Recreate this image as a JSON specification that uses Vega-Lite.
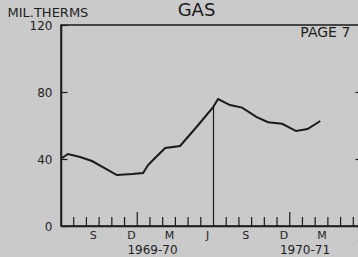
{
  "$schema": "https://vega.github.io/schema/vega-lite/v6.json",
  "autosize": {"type": "none"},
  "padding": {"left": 61, "top": 25, "right": 0, "bottom": 31},
  "width": 305,
  "height": 201,
  "background": "#cacaca",
  "title": {"text": "GAS", "fontSize": 18, "font": "DejaVu Sans", "fontWeight": "normal", "color": "#1a1a1a", "anchor": "middle", "dx": -17, "offset": 0, "dy": 14},
  "config": {
    "view": {"stroke": "#1a1a1a", "strokeWidth": 1.5},
    "axis": {"grid": false, "labelFont": "DejaVu Sans", "titleFont": "DejaVu Sans", "labelColor": "#1e1e1e", "titleColor": "#1e1e1e", "domainColor": "#1a1a1a", "domainWidth": 1.5, "tickColor": "#1a1a1a", "tickWidth": 1.2}
  },
  "resolve": {"axis": {"y": "independent"}},
  "layer": [
    {
      "data": {"values": [
        {"m": 0.08, "v": 40.6}, {"m": 0.55, "v": 43.0}, {"m": 1.5, "v": 41.2}, {"m": 2.44, "v": 38.8},
        {"m": 4.4, "v": 30.4}, {"m": 5.6, "v": 31.0}, {"m": 6.46, "v": 31.6}, {"m": 6.85, "v": 36.4},
        {"m": 7.4, "v": 40.6}, {"m": 8.2, "v": 46.6}, {"m": 9.37, "v": 47.8}, {"m": 10.8, "v": 60.3},
        {"m": 11.97, "v": 71.0}, {"m": 12.36, "v": 75.8}, {"m": 13.3, "v": 72.2}, {"m": 14.25, "v": 70.7},
        {"m": 15.4, "v": 65.0}, {"m": 16.3, "v": 62.0}, {"m": 17.4, "v": 61.0}, {"m": 18.5, "v": 56.7},
        {"m": 19.4, "v": 57.9}, {"m": 20.4, "v": 62.7}
      ]},
      "mark": {"type": "line", "color": "#1a1a1a", "strokeWidth": 2},
      "encoding": {
        "x": {"field": "m", "type": "quantitative", "scale": {"domain": [0, 24], "nice": false, "zero": false},
              "axis": {"title": null, "ticks": false, "values": [2.5, 5.5, 8.5, 11.5, 14.5, 17.5, 20.5, 23.5],
                       "labelExpr": "datum.value % 12 == 2.5 ? 'S' : datum.value % 12 == 5.5 ? 'D' : datum.value % 12 == 8.5 ? 'M' : 'J'",
                       "labelFontSize": 11, "labelPadding": 3, "labelFlush": false}},
        "y": {"field": "v", "type": "quantitative", "scale": {"domain": [0, 120], "nice": false},
              "axis": {"values": [0, 40, 80, 120], "tickSize": -6, "labelPadding": 15, "labelFontSize": 12,
                       "title": "MIL.THERMS", "titleAngle": 0, "titleAlign": "left", "titleBaseline": "alphabetic",
                       "titleX": -54, "titleY": -9, "titleFontSize": 13, "titleFontWeight": "normal"}}
      }
    },
    {
      "data": {"values": [{"m": 12, "v": 0, "v1": 71}]},
      "mark": {"type": "rule", "color": "#1a1a1a", "strokeWidth": 1.2},
      "encoding": {
        "x": {"field": "m", "type": "quantitative"},
        "y": {"field": "v", "type": "quantitative", "axis": null},
        "y2": {"field": "v1"}
      }
    },
    {
      "data": {"values": [
        {"m": 1, "v": 0, "t": 5.4}, {"m": 2, "v": 0, "t": 5.4}, {"m": 3, "v": 0, "t": 5.4}, {"m": 4, "v": 0, "t": 5.4}, {"m": 5, "v": 0, "t": 5.4},
        {"m": 6, "v": 0, "t": 8.4}, {"m": 7, "v": 0, "t": 5.4}, {"m": 8, "v": 0, "t": 5.4}, {"m": 9, "v": 0, "t": 5.4}, {"m": 10, "v": 0, "t": 5.4},
        {"m": 11, "v": 0, "t": 5.4}, {"m": 13, "v": 0, "t": 5.4}, {"m": 14, "v": 0, "t": 5.4}, {"m": 15, "v": 0, "t": 5.4}, {"m": 16, "v": 0, "t": 5.4},
        {"m": 17, "v": 0, "t": 5.4}, {"m": 18, "v": 0, "t": 8.4}, {"m": 19, "v": 0, "t": 5.4}, {"m": 20, "v": 0, "t": 5.4}, {"m": 21, "v": 0, "t": 5.4},
        {"m": 22, "v": 0, "t": 5.4}, {"m": 23, "v": 0, "t": 5.4}
      ]},
      "mark": {"type": "rule", "color": "#1a1a1a", "strokeWidth": 1.2},
      "encoding": {
        "x": {"field": "m", "type": "quantitative"},
        "y": {"field": "v", "type": "quantitative",
              "axis": {"orient": "right", "values": [40, 80], "tickSize": -11, "labels": false, "title": null, "domain": false}},
        "y2": {"field": "t"}
      }
    },
    {
      "data": {"values": [{"m": 7.2, "v": -14.6, "label": "1969-70"}, {"m": 19.2, "v": -14.6, "label": "1970-71"}]},
      "mark": {"type": "text", "font": "DejaVu Sans", "fontSize": 12, "color": "#1e1e1e", "baseline": "middle", "align": "center"},
      "encoding": {
        "x": {"field": "m", "type": "quantitative"},
        "y": {"field": "v", "type": "quantitative", "axis": null},
        "text": {"field": "label"}
      }
    },
    {
      "data": {"values": [{"m": 20.8, "v": 115.5, "label": "PAGE 7"}]},
      "mark": {"type": "text", "font": "DejaVu Sans", "fontSize": 14, "color": "#1e1e1e", "baseline": "middle", "align": "center"},
      "encoding": {
        "x": {"field": "m", "type": "quantitative"},
        "y": {"field": "v", "type": "quantitative", "axis": null},
        "text": {"field": "label"}
      }
    }
  ]
}
